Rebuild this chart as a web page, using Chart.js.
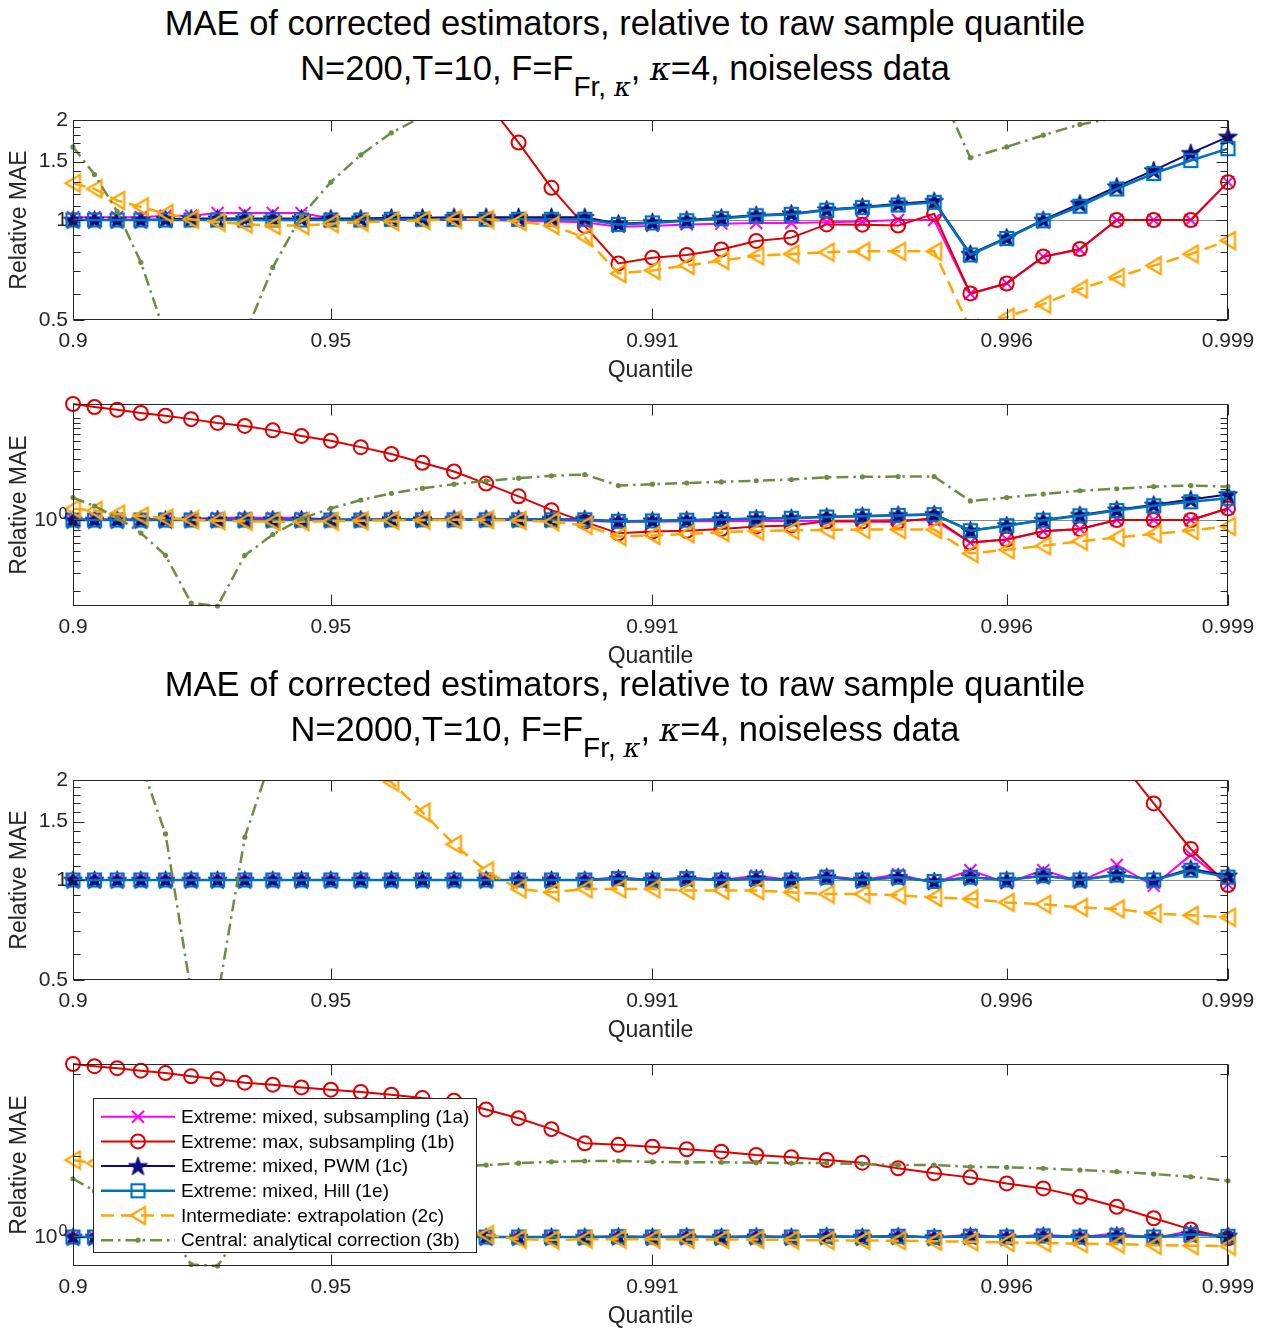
<!DOCTYPE html>
<html>
<head>
<meta charset="utf-8">
<script src="https://cdn.jsdelivr.net/npm/chart.js@4.4.1/dist/chart.umd.min.js"></script>
<style>
  body { margin: 0; background: #fff; }
  #fig { position: relative; width: 1265px; height: 1330px; background: #fff; overflow: hidden;
         font-family: "Liberation Sans", Arial, Helvetica, sans-serif; color: #000; }
  .title { position: absolute; left: 0; width: 1250px; text-align: center; font-size: 34.5px;
           line-height: 40px; white-space: nowrap; }
  .title sub { font-size: 28px; vertical-align: -16px; line-height: 0; }
  .title i { font-family: "DejaVu Serif", "Liberation Serif", serif; font-size: 0.92em; }
  canvas { position: absolute; left: 0; }
</style>
</head>
<body>
<div id="fig">
  <div class="title" style="top:3px">MAE of corrected estimators, relative to raw sample quantile</div>
  <div class="title" style="top:48px">N=200,T=10, F=F<sub>Fr, <i>κ</i></sub>, <i>κ</i>=4, noiseless data</div>
  <canvas id="p1" width="1265" height="290" style="top:100px"></canvas>
  <canvas id="p2" width="1265" height="292" style="top:384px"></canvas>
  <div class="title" style="top:664px">MAE of corrected estimators, relative to raw sample quantile</div>
  <div class="title" style="top:709px">N=2000,T=10, F=F<sub>Fr, <i>κ</i></sub>, <i>κ</i>=4, noiseless data</div>
  <canvas id="p3" width="1265" height="290" style="top:760px"></canvas>
  <canvas id="p4" width="1265" height="292" style="top:1044px"></canvas>
</div>
<script>
// Quantile levels of the evaluation grid
const quantiles = [0.900, 0.905, 0.910, 0.915, 0.920, 0.925, 0.930, 0.935, 0.940, 0.945,
                   0.950, 0.955, 0.960, 0.965, 0.970, 0.975, 0.980, 0.985, 0.990,
                   0.9905, 0.9910, 0.9915, 0.9920, 0.9925, 0.9930, 0.9935, 0.9940, 0.9945,
                   0.9950, 0.9955, 0.9960, 0.9965, 0.9970, 0.9975, 0.9980, 0.9985, 0.9990];
const tickQuantiles = [0.9, 0.95, 0.991, 0.996, 0.999];
const tickLabels = ['0.9', '0.95', '0.991', '0.996', '0.999'];

const seriesNames = [
  'Extreme: mixed, subsampling (1a)',
  'Extreme: max, subsampling (1b)',
  'Extreme: mixed, PWM (1c)',
  'Extreme: mixed, Hill (1e)',
  'Intermediate: extrapolation (2c)',
  'Central: analytical correction (3b)'
];

// Relative MAE, N=200
const mixedSub200 = [1.02, 1.02, 1.02, 1.02, 1.03, 1.03, 1.05, 1.05, 1.05, 1.05,
                     1.01, 1.0, 1.0, 1.0, 1.0, 1.0, 0.995, 0.99, 0.985, 0.955,
                     0.96, 0.97, 0.975, 0.98, 0.98, 0.985, 0.99, 1.0, 1.0, 0.60,
                     0.645, 0.775, 0.815, 1.0, 1.0, 1.0, 1.30];
const maxSub200 = [13.8, 12.9, 12.1, 11.25, 10.6, 9.8, 9.0, 8.4, 7.6, 6.7,
                   6.0, 5.2, 4.45, 3.65, 3.0, 2.28, 1.71, 1.25, 0.96, 0.74,
                   0.77, 0.785, 0.815, 0.865, 0.885, 0.97, 0.968, 0.962, 1.044, 0.601,
                   0.644, 0.776, 0.818, 1.0, 1.0, 1.0, 1.30];
const pwm200 = [1.0, 1.0, 1.0, 1.0, 1.005, 1.01, 1.01, 1.01, 1.01, 1.01,
                1.01, 1.01, 1.015, 1.015, 1.02, 1.02, 1.02, 1.02, 1.02, 0.975,
                0.985, 1.0, 1.015, 1.035, 1.045, 1.075, 1.095, 1.12, 1.14, 0.79,
                0.885, 1.0, 1.12, 1.26, 1.41, 1.59, 1.78];
const hill200 = [1.0, 1.0, 1.0, 1.0, 1.0, 1.0, 1.0, 1.0, 1.0, 1.0,
                 1.0, 1.0, 1.005, 1.005, 1.005, 1.005, 1.005, 1.005, 1.005, 0.97,
                 0.98, 0.995, 1.01, 1.03, 1.04, 1.07, 1.09, 1.11, 1.13, 0.785,
                 0.88, 0.995, 1.10, 1.24, 1.38, 1.51, 1.64];
const extrap200 = [1.29, 1.24, 1.145, 1.095, 1.045, 1.005, 0.985, 0.972, 0.962, 0.962,
                   0.975, 0.985, 0.99, 0.997, 1.005, 1.005, 0.99, 0.962, 0.887, 0.69,
                   0.705, 0.73, 0.755, 0.78, 0.79, 0.80, 0.805, 0.805, 0.805, 0.47,
                   0.51, 0.558, 0.62, 0.672, 0.729, 0.79, 0.867];
const analytic200 = [1.66, 1.37, 1.06, 0.746, 0.45, 0.153, 0.143, 0.45, 0.72, 1.03,
                     1.30, 1.57, 1.83, 2.05, 2.25, 2.42, 2.58, 2.72, 2.80, 2.18,
                     2.25, 2.31, 2.37, 2.43, 2.50, 2.63, 2.66, 2.67, 2.67, 1.54,
                     1.66, 1.80, 1.94, 2.03, 2.13, 2.18, 2.13];

// Relative MAE, N=2000
const mixedSub2000 = [1.0, 1.0, 1.0, 1.0, 1.0, 1.0, 1.0, 1.0, 1.0, 1.0,
                      1.0, 1.0, 1.0, 1.0, 1.0, 1.0, 1.0, 1.0, 1.0, 1.02,
                      1.0, 1.02, 1.0, 1.03, 1.0, 1.03, 1.0, 1.04, 0.98, 1.07,
                      0.98, 1.07, 0.99, 1.11, 0.96, 1.19, 0.97];
const maxSub2000 = [134, 126, 119, 111, 103.6, 94.6, 87.4, 79, 74.6, 69.1,
                    64.7, 60.6, 56.2, 51.1, 47.4, 37.0, 28.9, 21.2, 14.2, 13.6,
                    12.9, 12.0, 11.2, 10.2, 9.55, 8.85, 8.2, 7.0, 6.06, 5.41,
                    4.56, 3.96, 3.12, 2.35, 1.70, 1.24, 0.966];
const pwm2000 = [1.0, 1.0, 1.0, 1.0, 1.0, 1.0, 1.0, 1.0, 1.0, 1.0,
                 1.0, 1.0, 1.0, 1.0, 1.0, 1.0, 1.0, 1.0, 1.0, 1.01,
                 1.0, 1.01, 1.0, 1.01, 1.0, 1.02, 1.0, 1.02, 0.99, 1.02,
                 1.0, 1.03, 1.0, 1.04, 1.0, 1.08, 1.03];
const hill2000 = [1.0, 1.0, 1.0, 1.0, 1.0, 1.0, 1.0, 1.0, 1.0, 1.0,
                  1.0, 1.0, 1.0, 1.0, 1.0, 1.0, 1.0, 1.0, 1.0, 1.01,
                  1.0, 1.01, 1.0, 1.01, 1.0, 1.02, 1.0, 1.02, 0.99, 1.02,
                  1.0, 1.03, 1.0, 1.035, 1.0, 1.07, 1.02];
const extrap2000 = [8.84, 8.06, 7.3, 6.5, 5.7, 4.9, 4.2, 3.6, 3.1, 2.7,
                    2.4, 2.15, 1.97, 1.6, 1.28, 1.066, 0.94, 0.918, 0.94, 0.94,
                    0.94, 0.93, 0.93, 0.93, 0.918, 0.907, 0.907, 0.90, 0.886, 0.877,
                    0.856, 0.845, 0.827, 0.818, 0.793, 0.783, 0.772];
const analytic2000 = [5.2, 3.7, 2.8, 2.25, 1.376, 0.46, 0.44, 1.345, 2.4, 3.4,
                      4.4, 5.3, 6.1, 6.8, 7.3, 7.67, 8.08, 8.4, 8.6, 8.6,
                      8.4, 8.3, 8.3, 8.2, 8.1, 8.1, 7.9, 7.67, 7.67, 7.3,
                      7.2, 6.98, 6.66, 6.35, 5.95, 5.5, 4.9];

// ---------------------------------------------------------------------------
const FONT = '"Liberation Sans", Arial, Helvetica, sans-serif';
const AXIS_COLOR = '#262626';
Chart.defaults.font.family = FONT;
Chart.defaults.color = AXIS_COLOR;

// Horizontal placement of the grid points: spacing widens smoothly toward the upper quantiles
function xAt(i) { return 39 * i - 270 * (1 - Math.exp(-i / 15)); }
const tickPositions = tickQuantiles.map(q => xAt(quantiles.indexOf(q)));

// Marker glyphs
function makeMarker(size, draw) {
  const c = document.createElement('canvas');
  c.width = c.height = size;
  draw(c.getContext('2d'), size / 2);
  return c;
}
const NAVY = '#0b0b7a', BLUE = '#0072bd', ORANGE = '#ffa500', GREEN = '#6f8c44', RED = '#dd0000', MAGENTA = '#ff00ff';
const starImg = makeMarker(21, (g, c) => {
  g.beginPath();
  for (let k = 0; k < 10; k++) {
    const r = k % 2 ? 3.9 : 10;
    const a = -Math.PI / 2 + k * Math.PI / 5;
    g.lineTo(c + r * Math.cos(a), c + 0.6 + r * Math.sin(a));
  }
  g.closePath();
  g.fillStyle = NAVY; g.fill();
  g.strokeStyle = NAVY; g.lineWidth = 1; g.stroke();
});
const squareImg = makeMarker(17, (g, c) => {
  g.strokeStyle = BLUE; g.lineWidth = 2.2;
  g.strokeRect(c - 6.5, c - 6.5, 13, 13);
});
const triImg = makeMarker(21, (g, c) => {
  g.strokeStyle = ORANGE; g.lineWidth = 2.2; g.lineJoin = 'miter';
  g.beginPath();
  g.moveTo(c - 7.5, c);
  g.lineTo(c + 7, c - 8.5);
  g.lineTo(c + 7, c + 8.5);
  g.closePath();
  g.stroke();
});

const seriesStyles = [
  { borderColor: MAGENTA, borderWidth: 2, pointStyle: 'crossRot', pointRadius: 8.5,
    pointBorderWidth: 2, pointBorderColor: MAGENTA, pointBackgroundColor: MAGENTA },
  { borderColor: RED, borderWidth: 2, pointStyle: 'circle', pointRadius: 7,
    pointBorderWidth: 2, pointBorderColor: RED, pointBackgroundColor: 'rgba(0,0,0,0)' },
  { borderColor: NAVY, borderWidth: 2, pointStyle: starImg, pointRadius: 9,
    pointBorderColor: NAVY, pointBackgroundColor: NAVY },
  { borderColor: BLUE, borderWidth: 2.5, pointStyle: squareImg, pointRadius: 8,
    pointBorderColor: BLUE, pointBackgroundColor: BLUE },
  { borderColor: ORANGE, borderWidth: 2.5, borderDash: [13, 7], pointStyle: triImg, pointRadius: 9,
    pointBorderColor: ORANGE, pointBackgroundColor: ORANGE },
  { borderColor: GREEN, borderWidth: 2.5, borderDash: [12, 5, 2.5, 5], pointStyle: 'circle', pointRadius: 2.6,
    pointBorderWidth: 0, pointBorderColor: GREEN, pointBackgroundColor: GREEN }
];

function buildDatasets(seriesList, clip) {
  return seriesList.map((vals, k) => Object.assign({
    label: seriesNames[k],
    data: vals.map((v, i) => ({ x: xAt(i), y: v })),
    fill: false, tension: 0, borderCapStyle: 'butt', borderJoinStyle: 'miter',
    order: seriesList.length - k,       // later series drawn on top
    clip: clip
  }, seriesStyles[k], { pointHoverRadius: seriesStyles[k].pointRadius }));
}

// Box, inward ticks on all four sides, the reference line at 1, the power-of-ten exponent and the legend
function makeAxesPlugin(cfg) {
  const minorTicks = cfg.minor;
  const line = (ctx, x1, y1, x2, y2) => { ctx.beginPath(); ctx.moveTo(x1, y1); ctx.lineTo(x2, y2); ctx.stroke(); };
  return {
    id: 'matlabAxes',
    beforeDatasetsDraw(chart) {
      const { ctx, chartArea: a, scales: { y } } = chart;
      const py = Math.round(y.getPixelForValue(1)) + 0.5;
      ctx.save();
      ctx.strokeStyle = '#8a8a8a'; ctx.lineWidth = 1;
      line(ctx, a.left, py, a.right, py);
      ctx.restore();
    },
    afterDatasetsDraw(chart) {
      const { ctx, chartArea: a, scales: { x, y } } = chart;
      const L = a.left + 0.5, R = a.right - 0.5, T = a.top + 0.5, B = a.bottom - 0.5;
      ctx.save();
      ctx.strokeStyle = AXIS_COLOR; ctx.lineWidth = 1;
      x.ticks.forEach(t => {
        const px = Math.round(x.getPixelForValue(t.value)) + 0.5;
        line(ctx, px, B, px, B - 11);
        line(ctx, px, T, px, T + 11);
      });
      y.ticks.forEach(t => {
        const py = Math.round(y.getPixelForValue(t.value)) + 0.5;
        line(ctx, L, py, L + 11, py);
        line(ctx, R, py, R - 11, py);
      });
      minorTicks.forEach(v => {
        const py = Math.round(y.getPixelForValue(v)) + 0.5;
        line(ctx, L, py, L + 7, py);
        line(ctx, R, py, R - 7, py);
      });
      ctx.strokeRect(L, T, R - L, B - T);
      ctx.restore();
    },
    afterDraw(chart) {
      const { ctx, chartArea: a, scales: { y } } = chart;
      if (cfg.tight) {
        // exponent of the 10^0 tick label
        ctx.save();
        ctx.fillStyle = AXIS_COLOR;
        ctx.font = '16px ' + FONT;
        ctx.textAlign = 'left'; ctx.textBaseline = 'alphabetic';
        ctx.fillText('0', a.left - 14.5, y.getPixelForValue(1) - 1.5);
        ctx.restore();
      }
      if (!cfg.legend) return;
      const bx = a.left + 20, by = a.top + 34, bw = 384, bh = 155;
      ctx.save();
      ctx.fillStyle = '#fff';
      ctx.fillRect(bx, by, bw, bh);
      ctx.strokeStyle = AXIS_COLOR; ctx.lineWidth = 1;
      ctx.strokeRect(bx + 0.5, by + 0.5, bw - 1, bh - 1);
      chart.data.datasets.forEach((ds, k) => {
        const cy = by + 18.7 + k * 24.7;
        ctx.save();
        ctx.strokeStyle = ds.borderColor; ctx.lineWidth = ds.borderWidth;
        ctx.setLineDash(ds.borderDash || []);
        line(ctx, bx + 8, cy, bx + 82, cy);
        ctx.restore();
        ctx.save();
        ctx.strokeStyle = ds.pointBorderColor; ctx.fillStyle = ds.pointBackgroundColor;
        ctx.lineWidth = ds.pointBorderWidth === undefined ? 1 : ds.pointBorderWidth;
        Chart.helpers.drawPoint(ctx, { pointStyle: ds.pointStyle, radius: ds.pointRadius,
          borderWidth: ds.pointBorderWidth || 0, rotation: 0 }, bx + 45, cy);
        ctx.restore();
        ctx.fillStyle = '#000';
        ctx.font = '19px ' + FONT;
        ctx.textBaseline = 'middle'; ctx.textAlign = 'left';
        ctx.fillText(ds.label, bx + 88, cy + 1);
      });
      ctx.restore();
    }
  };
}

function makePanel(id, seriesList, cfg) {
  const all = [].concat(...seriesList);
  const yMin = cfg.tight ? Math.min(...all) : cfg.min;
  const yMax = cfg.tight ? Math.max(...all) : cfg.max;
  return new Chart(document.getElementById(id), {
    type: 'line',
    data: { datasets: buildDatasets(seriesList, cfg.tight ? false : { left: 12, right: 12, top: 0, bottom: 0 }) },
    options: {
      responsive: false, animation: false, devicePixelRatio: 1,
      layout: { padding: { top: 20, right: 37, bottom: 0, left: 0 } },
      plugins: { legend: { display: false }, tooltip: { enabled: false } },
      events: [],
      scales: {
        x: {
          type: 'linear', min: xAt(0), max: xAt(quantiles.length - 1),
          grid: { display: false, drawTicks: false }, border: { display: false },
          afterBuildTicks: s => { s.ticks = tickPositions.map(v => ({ value: v })); },
          afterFit: s => { s.height = 70; },
          ticks: { autoSkip: false, maxRotation: 0, padding: 9, color: AXIS_COLOR,
                   font: { size: 21 }, callback: (v, i) => tickLabels[i] },
          title: { display: true, text: 'Quantile', color: AXIS_COLOR, font: { size: 23 },
                   padding: { top: 0, bottom: 6 } }
        },
        y: {
          type: 'logarithmic', min: yMin, max: yMax,
          grid: { display: false, drawTicks: false }, border: { display: false },
          afterBuildTicks: s => { s.ticks = cfg.major.map(v => ({ value: v })); },
          afterFit: s => { s.width = 73; },
          ticks: { autoSkip: false, padding: 5, color: AXIS_COLOR, font: { size: 21 },
                   // the en space leaves room for the exponent drawn after "10"
                   callback: v => cfg.tight ? '10\u2002' : String(v) },
          title: { display: true, text: 'Relative MAE', color: AXIS_COLOR, font: { size: 23 },
                   padding: { top: 6, bottom: 0 } }
        }
      }
    },
    plugins: [makeAxesPlugin(cfg)]
  });
}

const zoomMinor = [0.6, 0.7, 0.8, 0.9, 1.1, 1.2, 1.3, 1.4, 1.6, 1.7, 1.8, 1.9];
const set200 = [mixedSub200, maxSub200, pwm200, hill200, extrap200, analytic200];
const set2000 = [mixedSub2000, maxSub2000, pwm2000, hill2000, extrap2000, analytic2000];

makePanel('p1', set200, { min: 0.5, max: 2, major: [0.5, 1, 1.5, 2], minor: zoomMinor });
makePanel('p2', set200, { tight: true, major: [1],
  minor: [0.2, 0.3, 0.4, 0.5, 0.6, 0.7, 0.8, 0.9, 2, 3, 4, 5, 6, 7, 8, 9, 10] });
makePanel('p3', set2000, { min: 0.5, max: 2, major: [0.5, 1, 1.5, 2], minor: zoomMinor });
makePanel('p4', set2000, { tight: true, major: [1], minor: [10, 100], legend: true });
</script>
</body>
</html>
